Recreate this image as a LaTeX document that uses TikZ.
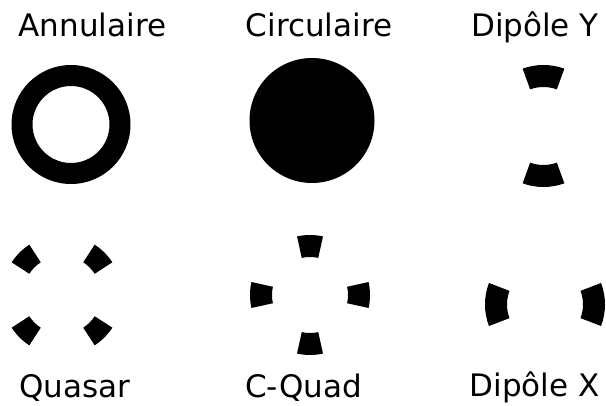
\documentclass[tikz,border=0pt]{standalone}
\usepackage{fontspec}
\setmainfont{DejaVu Sans}
\usetikzlibrary{calc}

\begin{document}
\begin{tikzpicture}[
    x=1pt, y=-1pt,
    pole/.style={fill=black},
    titre/.style={anchor=base, inner sep=0pt, font=\fontsize{31}{36}\selectfont}
]
\useasboundingbox (0,0) rectangle (606,406);

% Centres
\coordinate (annu) at (71,124.5);
\coordinate (circ) at (312,120.5);
\coordinate (dipy) at (543.5,126);
\coordinate (quasar) at (62,295);
\coordinate (cquad) at (310,295);
\coordinate (dipx) at (545,304.5);

% Titles
\node[titre] (tannu) at (92.5,37) {Annulaire};
\node[titre] (tcirc) at (319,37) {Circulaire};
\node[titre] (tdipy) at (535,37) {Dipôle Y};
\node[titre] (tquasar) at (75,398) {Quasar};
\node[titre] (tcquad) at (303.5,398) {C-Quad};
\node[titre] (tdipx) at (534.5,397) {Dipôle X};

% Annulaire and Circulaire
\fill[pole, even odd rule] (annu) circle[radius=59.5] (annu) circle[radius=38.5];
\fill[pole] (circ) circle[radius=62.5];

% Dipole Y
\foreach \a in {90,270}
  \fill[pole] ($(dipy)+(\a-20:61)$) arc[start angle=\a-20, end angle=\a+20, radius=61]
    -- ($(dipy)+(\a+20:39)$) arc[start angle=\a+20, end angle=\a-20, radius=39] -- cycle;

% Quasar
\foreach \a in {45,135,225,315}
  \fill[pole] ($(quasar)+(\a-12:60)$) arc[start angle=\a-12, end angle=\a+12, radius=60]
    -- ($(quasar)+(\a+12:39)$) arc[start angle=\a+12, end angle=\a-12, radius=39] -- cycle;

% C-Quad
\foreach \a in {0,90,180,270}
  \fill[pole] ($(cquad)+(\a-12.5:60)$) arc[start angle=\a-12.5, end angle=\a+12.5, radius=60]
    -- ($(cquad)+(\a+12.5:38)$) arc[start angle=\a+12.5, end angle=\a-12.5, radius=38] -- cycle;

% Dipole X
\foreach \a in {0,180}
  \fill[pole] ($(dipx)+(\a-21:60)$) arc[start angle=\a-21, end angle=\a+21, radius=60]
    -- ($(dipx)+(\a+21:38)$) arc[start angle=\a+21, end angle=\a-21, radius=38] -- cycle;

\end{tikzpicture}
\end{document}
